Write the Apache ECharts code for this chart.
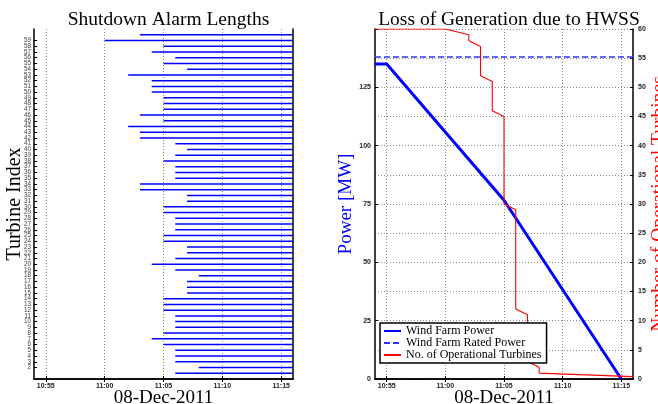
<!DOCTYPE html>
<html>
<head>
<meta charset="utf-8">
<script src="https://cdn.jsdelivr.net/npm/echarts@6/dist/echarts.min.js"></script>
<style>html,body{margin:0;padding:0;background:#fff;}#c{width:658px;height:404px;}</style>
</head>
<body>
<div id="c"></div>
<script>
// ---------- data ----------
const turbineIndex = Array.from({length: 60}, (_, i) => i + 1);
// alarm start time for turbines 1..60
const alarmStart = ['11:06','11:08','11:06','11:06','11:06','11:05','11:04','11:05','11:06','11:06',
                    '11:06','11:05','11:05','11:05','11:07','11:07','11:07','11:08','11:06','11:04',
                    '11:06','11:07','11:07','11:05','11:05','11:06','11:06','11:06','11:05','11:05',
                    '11:07','11:07','11:03','11:03','11:06','11:06','11:06','11:05','11:06','11:07',
                    '11:06','11:03','11:03','11:02','11:05','11:03','11:05','11:05','11:05','11:04',
                    '11:04','11:04','11:02','11:07','11:05','11:06','11:04','11:05','11:00','11:03'];
const alarmEnd = '11:16';
const timeTicks = ['10:55','11:00','11:05','11:10','11:15'];
const timeMin = '10:54', timeMax = '11:16';

const powerTimes = ['10:54','10:55','11:05','11:15'];
const powerValues = [135, 135, 76.6, 0];
const ratedTimes = ['10:54','11:16'];
const ratedValues = [138, 138];
const opTimes = ['10:54','11:00','11:02','11:02','11:03','11:03','11:04','11:04','11:05','11:05',
                 '11:06','11:06','11:07','11:07','11:08','11:08','11:16'];
const opValues = [60, 60, 59, 58, 57, 52, 51, 46, 45, 30, 29, 12, 11, 3, 2, 1, 0.4];
const powerTicks = [0, 25, 50, 75, 100, 125, 150];
const turbineTicks = [0,5,10,15,20,25,30,35,40,45,50,55,60];

// ---------- helpers ----------
const toMin = s => { const p = s.split(':'); return (+p[0]) * 60 + (+p[1]); };
const fmtMin = v => { const h = Math.floor(v / 60), m = Math.round(v - h * 60); return h + ':' + (m < 10 ? '0' : '') + m; };
const tickVals = timeTicks.map(toMin);
const serif = 'Liberation Serif';
const sans = 'Liberation Sans';

const frameLine = {show: true, lineStyle: {color: '#000', width: 1.5}};
const gridDot = {show: true, lineStyle: {color: '#888', width: 1, type: [1, 2]}};
const tickLab = {fontFamily: sans, fontSize: 7, fontWeight: 'bold', color: '#222'};

function timeAxis(gi, pos, withLabels, withGrid) {
  return {
    type: 'value', gridIndex: gi, position: pos, min: toMin(timeMin), max: toMin(timeMax),
    axisLine: frameLine,
    axisTick: {show: true, inside: true, length: 3, customValues: tickVals, lineStyle: {color: '#000'}},
    axisLabel: Object.assign({show: withLabels, customValues: tickVals, margin: 4, formatter: fmtMin}, tickLab),
    splitLine: withGrid ? gridDot : {show: false},
    name: withLabels ? '08-Dec-2011' : '', nameLocation: 'middle', nameGap: 10, nameMoveOverlap: false,
    nameTextStyle: {fontFamily: serif, fontSize: 19, color: '#000'}
  };
}

const barData = turbineIndex.map((t, i) => [toMin(alarmStart[i]), toMin(alarmEnd), t]);

const option = {
  animation: false,
  backgroundColor: '#fff',
  title: [
    {text: 'Shutdown Alarm Lengths', left: 163.5, top: 5, textAlign: 'center',
     textStyle: {fontFamily: serif, fontSize: 19.5, fontWeight: 'normal', color: '#000'}},
    {text: 'Loss of Generation due to HWSS', left: 504, top: 5, textAlign: 'center',
     textStyle: {fontFamily: serif, fontSize: 19.5, fontWeight: 'normal', color: '#000'}}
  ],
  grid: [
    {left: 34, top: 29, width: 259, height: 350, outerBoundsMode: 'none', containLabel: false},
    {left: 375, top: 29, width: 258, height: 350, outerBoundsMode: 'none', containLabel: false}
  ],
  xAxis: [
    timeAxis(0, 'bottom', true, true),
    timeAxis(0, 'top', false, false),
    timeAxis(1, 'bottom', true, true),
    timeAxis(1, 'top', false, false)
  ],
  yAxis: [
    {type: 'value', gridIndex: 0, position: 'left', min: 0, max: 61,
     axisLine: frameLine,
     axisTick: {show: true, inside: true, length: 3, customValues: turbineIndex, lineStyle: {color: '#000'}},
     axisLabel: {customValues: turbineIndex, margin: 3, fontFamily: sans, fontSize: 6.3, color: '#444'},
     splitLine: {show: false},
     name: 'Turbine Index', nameLocation: 'middle', nameRotate: 90, nameGap: 9, nameMoveOverlap: false,
     nameTextStyle: {fontFamily: serif, fontSize: 20, color: '#000'}},
    {type: 'value', gridIndex: 0, position: 'right', min: 0, max: 61,
     axisLine: frameLine, axisTick: {show: false}, axisLabel: {show: false}, splitLine: {show: false}},
    {type: 'value', gridIndex: 1, position: 'left', min: 0, max: 150,
     axisLine: frameLine,
     axisTick: {show: true, inside: true, length: 3, customValues: powerTicks, lineStyle: {color: '#000'}},
     axisLabel: Object.assign({customValues: powerTicks.slice(0, -1), margin: 4}, tickLab),
     splitLine: {show: false},
     name: 'Power [MW]', nameLocation: 'middle', nameRotate: 90, nameGap: 19, nameMoveOverlap: false,
     nameTextStyle: {fontFamily: serif, fontSize: 19, color: '#0000ff'}},
    {type: 'value', gridIndex: 1, position: 'right', min: 0, max: 60,
     axisLine: frameLine,
     axisTick: {show: true, inside: true, length: 3, customValues: turbineTicks, lineStyle: {color: '#000'}},
     axisLabel: Object.assign({customValues: turbineTicks, margin: 5}, tickLab),
     splitLine: Object.assign({}, gridDot),
     name: 'Number of Operational Turbines', nameLocation: 'middle', nameRotate: 90, nameGap: 16, nameMoveOverlap: false,
     nameTextStyle: {fontFamily: serif, fontSize: 19.5, color: '#ff0000'}}
  ],
  legend: {
    orient: 'vertical', left: 380, top: 323, itemWidth: 17, itemHeight: 8, itemGap: 0,
    padding: [2, 5, 2, 3], borderColor: '#000', borderWidth: 1.5, backgroundColor: '#fff',
    itemStyle: {color: 'rgba(0,0,0,0)', borderWidth: 0, opacity: 0},
    textStyle: {fontFamily: serif, fontSize: 12, lineHeight: 11, color: '#000'},
    data: ['Wind Farm Power', 'Wind Farm Rated Power', 'No. of Operational Turbines']
  },
  series: [
    {type: 'custom', name: 'alarms', xAxisIndex: 0, yAxisIndex: 0, clip: true,
     encode: {x: [0, 1], y: 2},
     renderItem: (params, api) => {
       const s = api.coord([api.value(0), api.value(2)]);
       const e = api.coord([api.value(1), api.value(2)]);
       return {type: 'line', shape: {x1: s[0], y1: s[1], x2: e[0], y2: e[1]},
               style: {stroke: '#0000ff', lineWidth: 1.5}};
     },
     data: barData},
    {type: 'line', name: 'Wind Farm Power', xAxisIndex: 2, yAxisIndex: 2, symbol: 'none',
     lineStyle: {color: '#0000ff', width: 3}, itemStyle: {color: '#0000ff'},
     data: powerTimes.map((t, i) => [toMin(t), powerValues[i]])},
    {type: 'line', name: 'Wind Farm Rated Power', xAxisIndex: 2, yAxisIndex: 2, symbol: 'none',
     lineStyle: {color: '#3333ff', width: 1.3, type: [6, 3]}, itemStyle: {color: '#3333ff'},
     data: ratedTimes.map((t, i) => [toMin(t), ratedValues[i]])},
    {type: 'line', name: 'No. of Operational Turbines', xAxisIndex: 2, yAxisIndex: 3, symbol: 'none',
     lineStyle: {color: '#ff0000', width: 1.1}, itemStyle: {color: '#ff0000'},
     data: opTimes.map((t, i) => [toMin(t), opValues[i]])}
  ]
};
const chart = echarts.init(document.getElementById('c'), null, {renderer: 'canvas'});
chart.setOption(option);
</script>
</body>
</html>
